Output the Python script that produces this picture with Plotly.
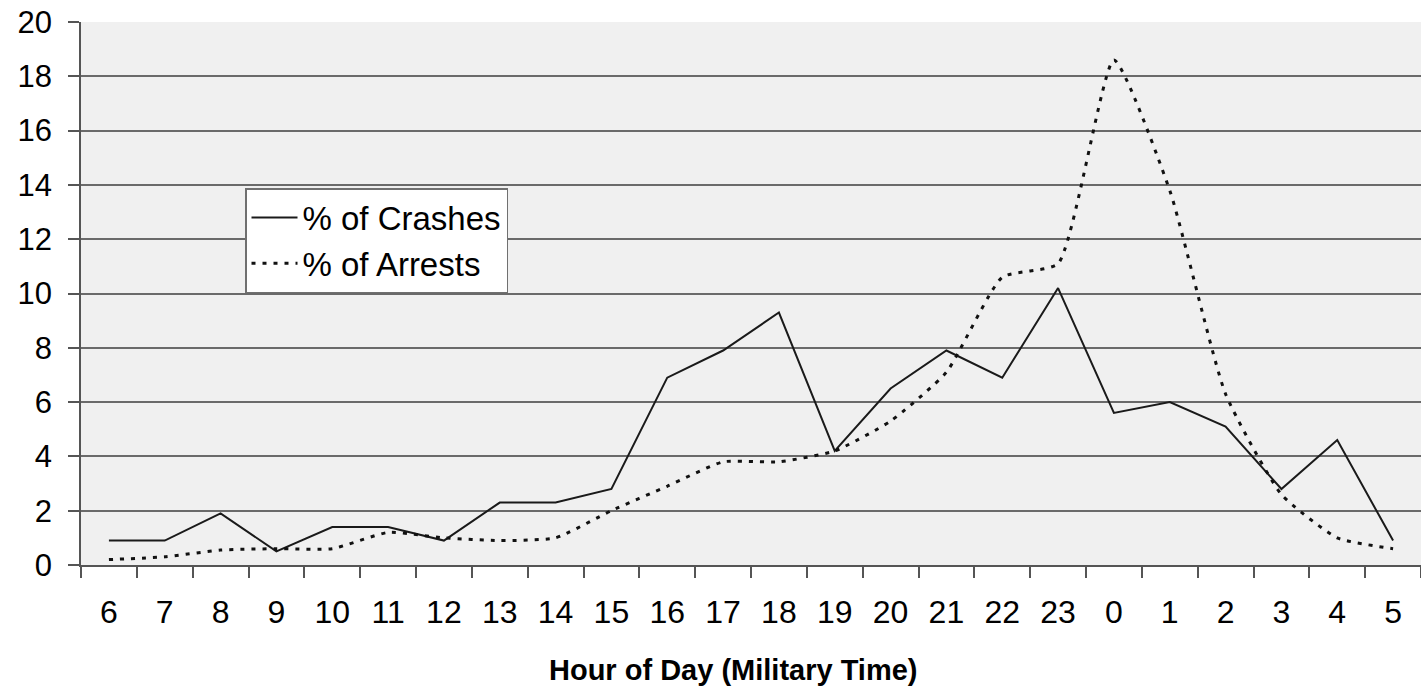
import plotly.graph_objects as go

hours = ["6", "7", "8", "9", "10", "11", "12", "13", "14", "15", "16", "17",
         "18", "19", "20", "21", "22", "23", "0", "1", "2", "3", "4", "5"]
crashes = [0.9, 0.9, 1.9, 0.5, 1.4, 1.4, 0.9, 2.3, 2.3, 2.8, 6.9, 7.9,
           9.3, 4.2, 6.5, 7.9, 6.9, 10.2, 5.6, 6.0, 5.1, 2.8, 4.6, 0.9]
arrests = [0.2, 0.3, 0.55, 0.6, 0.6, 1.2, 1.0, 0.9, 1.0, 2.0, 2.9, 3.8,
           3.8, 4.2, 5.3, 7.1, 10.6, 11.1, 18.6, 13.8, 6.3, 2.6, 1.0, 0.6]
y_ticks = [0, 2, 4, 6, 8, 10, 12, 14, 16, 18, 20]

FONT = "Liberation Sans, Arial, sans-serif"
L, T, B = 81, 22, 122
W, H = 1421, 687
PW, PH = W - L, H - T - B

fig = go.Figure()
fig.add_trace(go.Scatter(
    x=hours, y=crashes, name="% of Crashes", mode="lines",
    line=dict(color="#1a1a1a", width=2)))
fig.add_trace(go.Scatter(
    x=hours, y=arrests, name="% of Arrests", mode="lines",
    line=dict(color="#111111", width=3, dash="4px,7px", shape="spline", smoothing=0.5)))

fig.update_layout(
    width=W, height=H,
    margin=dict(l=L, r=0, t=T, b=B, autoexpand=False),
    paper_bgcolor="white", plot_bgcolor="#f0f0f0",
    font=dict(family=FONT, size=30, color="black"),
    showlegend=True,
    legend=dict(
        x=(245 - L) / PW, y=(565 - 188) / PH, xanchor="left", yanchor="top",
        bgcolor="white", bordercolor="#707070", borderwidth=1.5,
        font=dict(family=FONT, size=33, color="black"),
        tracegroupgap=0, itemwidth=46),
    annotations=[dict(
        text="<b>Hour of Day (Military Time)</b>",
        x=(733 - L) / PW, xref="paper", y=(565 - 670) / PH, yref="paper",
        xanchor="center", yanchor="middle",
        showarrow=False, font=dict(family=FONT, size=29, color="black"))],
)

fig.update_xaxes(
    type="category", range=[-0.5, 23.5], automargin=False,
    showgrid=False, showline=True, linecolor="#555555", linewidth=1.5,
    ticks="outside", tickson="boundaries", ticklen=11, tickwidth=1.5, tickcolor="#555555",
    tickfont=dict(family=FONT, size=32, color="black"),
    ticklabelstandoff=18)
fig.update_yaxes(
    range=[0, 20], tickvals=y_ticks, automargin=False,
    showgrid=True, gridcolor="#6a6a6a", gridwidth=1.5,
    showline=True, linecolor="#555555", linewidth=1.5,
    ticks="outside", ticklen=11, tickwidth=1.5, tickcolor="#555555",
    tickfont=dict(family=FONT, size=31, color="black"),
    ticklabelstandoff=10, zeroline=False)

fig.write_html("out.html", config={"displayModeBar": False},
               post_script="document.body.style.margin='0';document.body.style.overflow='hidden';")
